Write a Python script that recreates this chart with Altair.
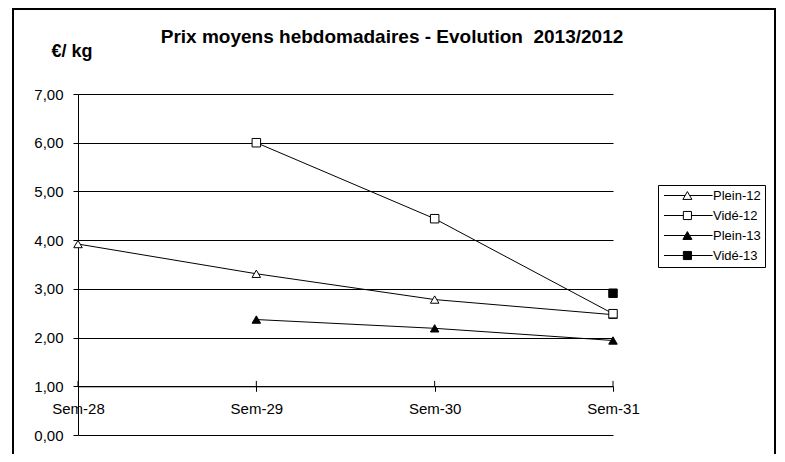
import altair as alt
import pandas as pd

weeks = ["Sem-28", "Sem-29", "Sem-30", "Sem-31"]
series = ["Plein-12", "Vidé-12", "Plein-13", "Vidé-13"]
plein12 = [3.92, 3.31, 2.78, 2.47]
vide12 = [None, 6.00, 4.44, 2.49]
plein13 = [None, 2.37, 2.19, 1.94]
vide13 = [None, None, None, 2.91]
y_ticks = [0, 1, 2, 3, 4, 5, 6, 7]

title_text = "Prix moyens hebdomadaires - Evolution \u00a02013/2012"
unit_text = "€/ kg"

rows = []
for name, vals in zip(series, [plein12, vide12, plein13, vide13]):
    for w, v in zip(weeks, vals):
        if v is not None:
            rows.append({"week": w, "series": name, "value": v})
df = pd.DataFrame(rows)

FONT = "Liberation Sans"
W, H = 535, 341

x_enc = alt.X("week:N", sort=weeks,
              scale=alt.Scale(type="point", domain=weeks, padding=0),
              axis=alt.Axis(title=None, labelAngle=0, offset=-48.7, grid=False,
                            domainColor="black", tickColor="black", tickSize=5,
                            labelPadding=10, labelFontSize=15, labelFont=FONT,
                            labelColor="black"))
y_enc = alt.Y("value:Q", scale=alt.Scale(domain=[0, 7], nice=False),
              axis=alt.Axis(title=None, values=y_ticks, grid=True, gridColor="black",
                            gridWidth=1, domainColor="black", tickColor="black",
                            tickSize=5, labelPadding=10, labelFontSize=15,
                            labelFont=FONT, labelColor="black",
                            labelExpr="replace(format(datum.value, '.2f'), '.', ',')"))

base = alt.Chart(df)

lines = base.mark_line(color="black", strokeWidth=1).encode(
    x=x_enc, y=y_enc, detail="series:N")

points = base.mark_point(filled=True, stroke="black", strokeWidth=1, size=72, opacity=1).encode(
    x=x_enc, y=y_enc,
    shape=alt.Shape("series:N", scale=alt.Scale(domain=series,
                    range=["triangle-up", "square", "triangle-up", "square"]), legend=None),
    fill=alt.Fill("series:N", scale=alt.Scale(domain=series,
                  range=["white", "white", "black", "black"]), legend=None))

# upper half of the crossing category ticks on the x axis (which crosses at 1,00)
xticks = alt.Chart(pd.DataFrame({"week": weeks})).mark_rule(color="black", strokeWidth=1).encode(
    x=x_enc, y=alt.datum(1.0), y2=alt.datum(1.11))

tri = "M-1,0H3.7M4.7,0H9.8M4.2,-0.87L5.2,0.87L3.2,0.87Z"
sq = "M-1,0H3.3M5.1,0H9.8M3.3,-0.9H5.1V0.9H3.3Z"
leg = alt.Legend(title=None, orient="none", legendX=580, legendY=91, padding=4,
                 strokeColor="black", fillColor="white", labelFontSize=13,
                 labelFont=FONT, labelColor="black", symbolSize=81,
                 symbolStrokeWidth=1, symbolStrokeColor="black", labelOffset=38,
                 rowPadding=6, symbolOpacity=1)
legend_layer = base.transform_filter("false").mark_point(
    filled=False, color="black", strokeWidth=1, opacity=1).encode(
    x=x_enc, y=y_enc,
    shape=alt.Shape("series:N", scale=alt.Scale(domain=series, range=[tri, sq, tri, sq]), legend=leg),
    fill=alt.Fill("series:N", scale=alt.Scale(domain=series,
                  range=["white", "white", "black", "black"]), legend=leg),
    stroke=alt.Stroke("series:N", scale=alt.Scale(domain=series,
                      range=["black", "black", "black", "black"]), legend=leg))

frame = alt.Chart(pd.DataFrame({"k": [0]})).mark_rect(
    fillOpacity=0, stroke="black", strokeWidth=2).encode(
    x=alt.value(-65), x2=alt.value(697), y=alt.value(-85), y2=alt.value(420))

title = alt.Chart(pd.DataFrame({"t": [title_text]})).mark_text(
    font=FONT, fontSize=19, fontWeight="bold", color="black", align="center",
    baseline="middle").encode(x=alt.value(314), y=alt.value(-57), text="t:N")

unit = alt.Chart(pd.DataFrame({"t": [unit_text]})).mark_text(
    font=FONT, fontSize=18, fontWeight="bold", color="black", align="center",
    baseline="middle").encode(x=alt.value(-6), y=alt.value(-42), text="t:N")

chart = alt.layer(frame, lines, xticks, points, legend_layer, title, unit).resolve_scale(
    shape="independent", fill="independent", stroke="independent"
).properties(
    width=W, height=H,
    autosize=alt.AutoSizeParams(type="none"),
    padding={"left": 70, "top": 86, "right": 163, "bottom": 19},
    background="white",
).configure_view(stroke=None)

chart.save("out.html", embed_options={"renderer": "svg", "actions": False})
